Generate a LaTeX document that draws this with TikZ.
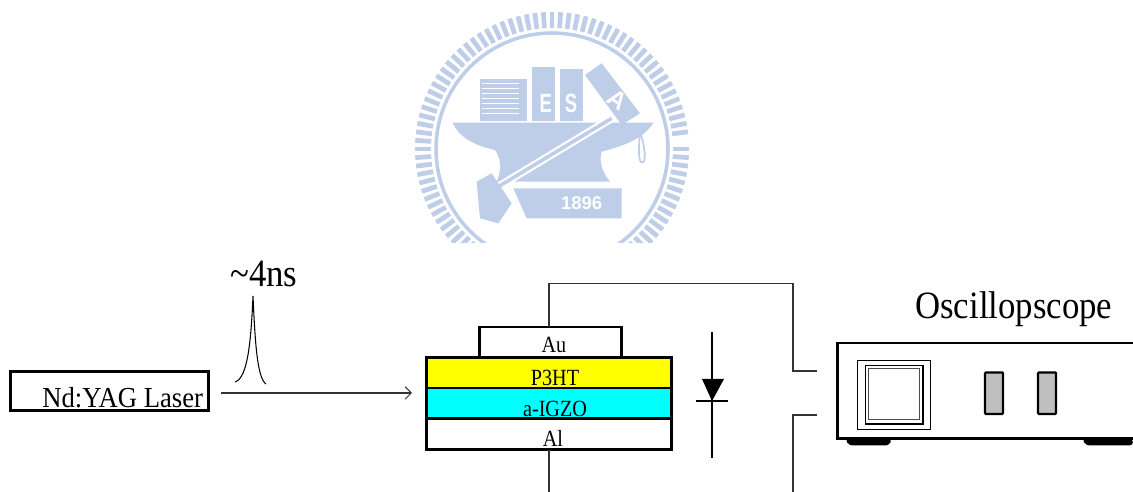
\documentclass[tikz,border=0pt]{standalone}
\usepackage{fontspec}
\setmainfont{Liberation Serif}
\newfontfamily\logofont{Liberation Sans}
\usepackage{tikz}
\usetikzlibrary{arrows.meta}
\definecolor{logoblue}{RGB}{190,205,232}
\definecolor{layeryellow}{RGB}{255,255,0}
\definecolor{layercyan}{RGB}{0,255,255}
\tikzset{
  layer/.style={draw,line width=1.7pt,minimum width=4.9cm,minimum height=.62cm,inner sep=0,outer sep=0},
  layertext/.style={anchor=base,inner sep=0,xscale=.87,font=\fontsize{13.2}{16}\selectfont},
  bigtext/.style={anchor=base west,inner sep=0,xscale=.9,font=\fontsize{22}{26}\selectfont},
  wire/.style={line width=.6pt,black!80},
  logotext/.style={inner sep=0,text=white,font=\logofont\bfseries}
}

\begin{document}
\begin{tikzpicture}[x=.02cm,y=-.02cm]
    \useasboundingbox (0,0) rectangle (1133,492);

    % watermark
    \begin{scope}
      \clip (380,0) rectangle (710,243);
      \foreach \a in {0,3.6,...,356.4}
        \draw[logoblue,line width=2.7pt,shift={(552,149)}] (\a:121) -- (\a:137);
      \draw[logoblue,line width=2pt] (552,149) circle (116);
      \begin{scope}[shift={(380,0)},scale=1/3]
        \fill[logoblue] (300,238) rectangle (440,362);
        \foreach \y in {250,265,...,350}
          \draw[white,line width=.5pt] (305,\y) -- (418,\y);
        \fill[logoblue] (455,200) rectangle (525,362);
        \fill[logoblue] (540,208) rectangle (610,362);
        \fill[logoblue] (615,225) -- (665,190) -- (780,340) -- (725,375) -- cycle;
        \fill[logoblue] (218,368) -- (820,368) .. controls (790,420) and (720,440) .. (665,455)
          .. controls (655,490) and (670,520) .. (690,545) -- (350,545)
          .. controls (365,510) and (365,480) .. (345,450)
          .. controls (300,440) and (240,420) .. (218,368);
        \draw[white,line width=4.5pt] (700,352) -- (330,575);
        \draw[logoblue,line width=2pt] (695,355) -- (335,572);
        \fill[logoblue] (290,545) -- (335,520) -- (395,610) -- (355,670) -- (300,655) -- cycle;
        \fill[logoblue] (400,565) -- (725,565) -- (725,655) -- (440,655) -- cycle;
        \draw[logoblue,line width=1pt] (780,395) .. controls (775,450) and (775,490) .. (787,487)
          .. controls (800,485) and (795,440) .. (780,395);
        \node[logotext,xscale=.7,font=\logofont\bfseries\fontsize{15}{18}\selectfont] (logoE) at (497,310) {E};
        \node[logotext,xscale=.7,font=\logofont\bfseries\fontsize{15}{18}\selectfont] (logoS) at (573,310) {S};
        \node[logotext,rotate=-35,font=\logofont\bfseries\fontsize{14}{16}\selectfont] (logoA) at (712,300) {A};
        \node[logotext,font=\logofont\bfseries\fontsize{10.5}{12}\selectfont] (logoyear) at (605,609) {1896};
      \end{scope}
    \end{scope}

    % laser and pulse
    \node[draw,line width=1.7pt,minimum width=3.95cm,minimum height=.78cm,inner sep=0,outer sep=0] (laser) at (109.5,391) {};
    \node[inner sep=0,anchor=base west,xscale=.92,font=\fontsize{16.5}{20}\selectfont] (laserlabel) at (42,408) {Nd:YAG Laser};
    \node[bigtext] (width) at (230,287) {\textasciitilde4ns};
    \coordinate (beamstart) at (221,393);
    \coordinate (beamend) at (412,393);
    \draw[wire,-{Straight Barb[length=3.5pt,width=7pt]}] (beamstart) -- (beamend);
    \coordinate (pulsetop) at (253,296);
    \draw[line width=.6pt] (235,382) .. controls (248,378) and (251,340) .. (pulsetop)
      .. controls (255,340) and (257,378) .. (266,384);

    % device
    \node[layer,minimum width=2.86cm] (au) at (550.5,342.5) {};
    \node[layer,fill=layeryellow] (p3ht) at (549,373) {};
    \node[layer,fill=layercyan] (igzo) at (549,403.5) {};
    \node[layer] (al) at (549,434.5) {};
    \node[layertext] (aulabel) at (554,353) {Au};
    \node[layertext] (p3htlabel) at (555,386) {P3HT};
    \node[layertext] (igzolabel) at (555,417) {a-IGZO};
    \node[layertext] (allabel) at (553,447) {Al};

    % diode
    \coordinate (diodetop) at (712,332);
    \coordinate (diodebottom) at (712,458);
    \draw[line width=.7pt] (diodetop) -- (diodebottom);
    \draw[line width=.7pt] (696,401) -- (728,401);
    \fill (702,379) -- (724,379) -- (712,401) -- cycle;

    % oscilloscope
    \node[bigtext] (osclabel) at (915,319) {Oscillopscope};
    \draw[line width=1.7pt] (1133,343) -- (837.5,343) -- (837.5,438.5) -- (1133,438.5);
    \fill[rounded corners=2pt] (845,439) -- (892,439) -- (889,445.5) -- (849,445.5) -- cycle;
    \fill[rounded corners=2pt] (1082,439) -- (1133,439) -- (1133,445.5) -- (1086,445.5) -- cycle;
    \draw[line width=.4pt] (857.5,360.5) rectangle (930,429);
    \draw[line width=.7pt] (865.5,365.5) rectangle (923,424);
    \draw[line width=.5pt,black!70] (868.5,368.5) rectangle (919,419.5);
    \foreach \x in {994,1047}
      \draw[line width=1.3pt,fill=black!25,rounded corners=.5pt] (\x-9,372.5) rectangle (\x+9,414);

    % wires
    \coordinate (topcorner) at (549,283.5);
    \coordinate (rightcorner) at (793,283.5);
    \coordinate (oschigh) at (817,371);
    \coordinate (osclow) at (817,415);
    \coordinate (lowcorner) at (793,415);
    \coordinate (lowend) at (793,492);
    \coordinate (alend) at (549,492);
    \draw[wire] (au.north -| topcorner) -- (topcorner) -- (rightcorner) |- (oschigh);
    \draw[wire] (osclow) -- (lowcorner) -- (lowend);
    \draw[wire] (al.south -| alend) -- (alend);
\end{tikzpicture}
\end{document}
